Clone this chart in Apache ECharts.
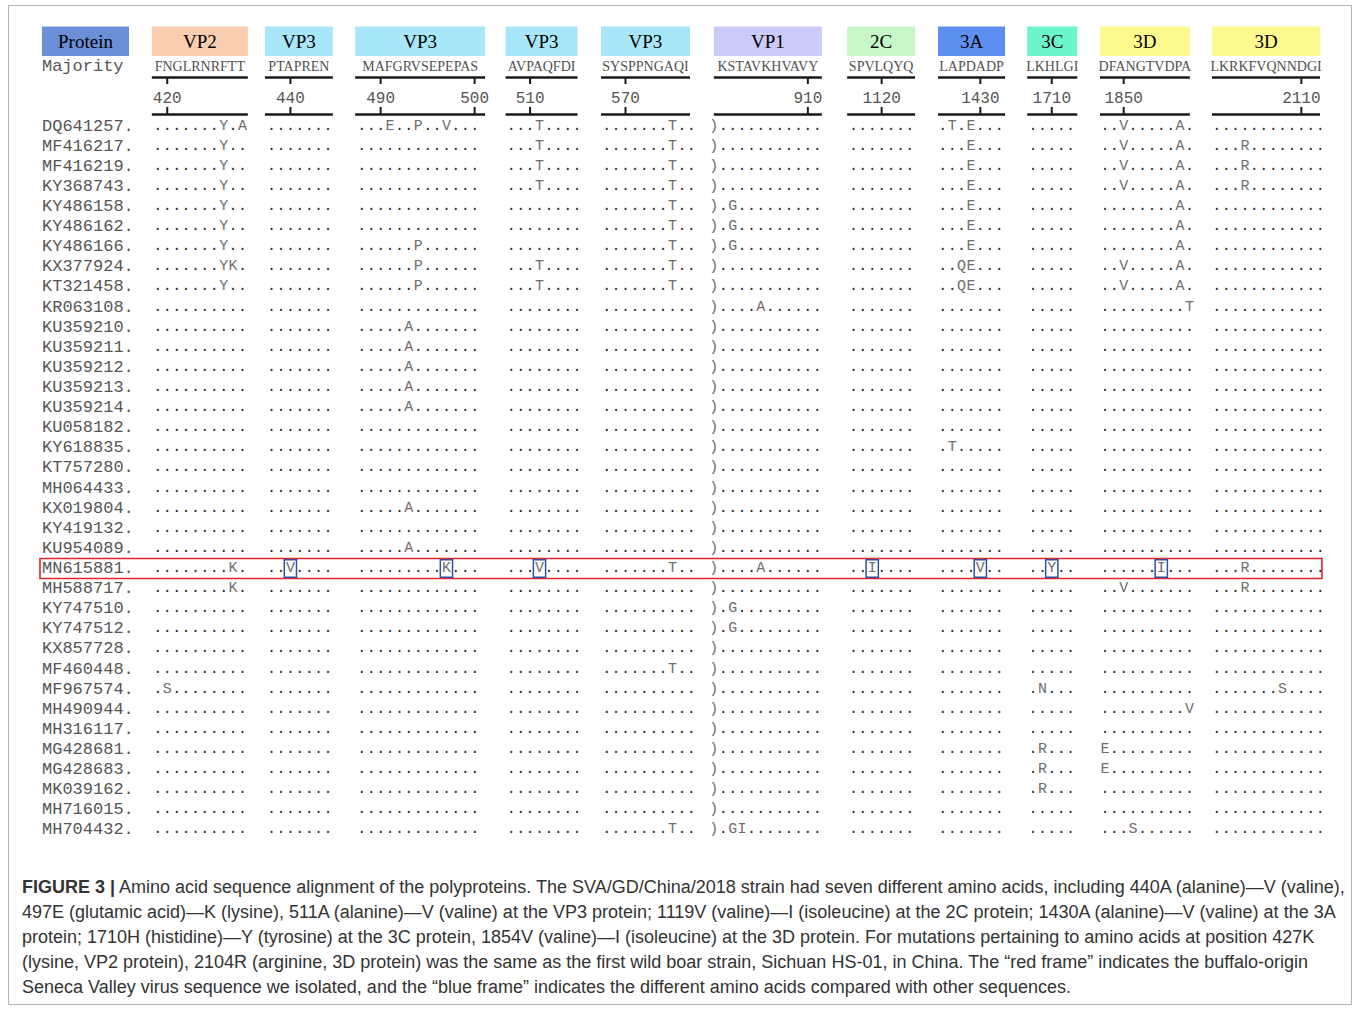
<!DOCTYPE html>
<html>
<head>
<meta charset="utf-8">
<title>SVA polyprotein alignment</title>
<script src="https://cdn.jsdelivr.net/npm/echarts@6/dist/echarts.min.js"></script>
<style>
html,body{margin:0;padding:0;background:#fff;}
#chart{width:1357px;height:1009px;}
</style>
</head>
<body>
<div id="chart"></div>
<script>
// ================= DATA =================
const strains = ['DQ641257','MF416217','MF416219','KY368743','KY486158','KY486162','KY486166','KX377924','KT321458','KR063108',
  'KU359210','KU359211','KU359212','KU359213','KU359214','KU058182','KY618835','KT757280','MH064433','KX019804',
  'KY419132','KU954089','MN615881','MH588717','KY747510','KY747512','KX857728','MF460448','MF967574','MH490944',
  'MH316117','MG428681','MG428683','MK039162','MH716015','MH704432'];
const proteins = ['VP2','VP3','VP3','VP3','VP3','VP1','2C','3A','3C','3D','3D'];
const majority = ['FNGLRNRFTT','PTAPREN','MAFGRVSEPEPAS','AVPAQFDI','SYSPPNGAQI','KSTAVKHVAVY','SPVLQYQ','LAPDADP','LKHLGI','DFANGTVDPA','LKRKFVQNNDGI'];
const firstResidue = [419,438,488,508,568,900,1117,1426,1708,1848,2101];
const positionTicks = [[420],[440],[490,500],[510],[570],[910],[1120],[1430],[1710],[1850],[2110]];

const seqVP2 = [
 '.......Y.A','.......Y..','.......Y..','.......Y..','.......Y..','.......Y..',
 '.......Y..','.......YK.','.......Y..','..........','..........','..........',
 '..........','..........','..........','..........','..........','..........',
 '..........','..........','..........','..........','........K.','........K.',
 '..........','..........','..........','..........','.S........','..........',
 '..........','..........','..........','..........','..........','..........'];
const seqVP3a = [
 '.......','.......','.......','.......','.......','.......',
 '.......','.......','.......','.......','.......','.......',
 '.......','.......','.......','.......','.......','.......',
 '.......','.......','.......','.......','..V....','.......',
 '.......','.......','.......','.......','.......','.......',
 '.......','.......','.......','.......','.......','.......'];
const seqVP3b = [
 '...E..P..V...','.............','.............','.............','.............','.............',
 '......P......','......P......','......P......','.............','.....A.......','.....A.......',
 '.....A.......','.....A.......','.....A.......','.............','.............','.............',
 '.............','.....A.......','.............','.....A.......','.........K...','.............',
 '.............','.............','.............','.............','.............','.............',
 '.............','.............','.............','.............','.............','.............'];
const seqVP3c = [
 '...T....','...T....','...T....','...T....','........','........',
 '........','...T....','...T....','........','........','........',
 '........','........','........','........','........','........',
 '........','........','........','........','...V....','........',
 '........','........','........','........','........','........',
 '........','........','........','........','........','........'];
const seqVP3d = [
 '.......T..','.......T..','.......T..','.......T..','.......T..','.......T..',
 '.......T..','.......T..','.......T..','..........','..........','..........',
 '..........','..........','..........','..........','..........','..........',
 '..........','..........','..........','..........','.......T..','..........',
 '..........','..........','..........','.......T..','..........','..........',
 '..........','..........','..........','..........','..........','.......T..'];
const seqVP1 = [
 ')...........',')...........',')...........',')...........',').G.........',').G.........',
 ').G.........',')...........',')...........',')....A......',')...........',')...........',
 ')...........',')...........',')...........',')...........',')...........',')...........',
 ')...........',')...........',')...........',')...........',')....A......',')...........',
 ').G.........',').G.........',')...........',')...........',')...........',')...........',
 ')...........',')...........',')...........',')...........',')...........',').GI........'];
const seq2C = [
 '.......','.......','.......','.......','.......','.......',
 '.......','.......','.......','.......','.......','.......',
 '.......','.......','.......','.......','.......','.......',
 '.......','.......','.......','.......','..I....','.......',
 '.......','.......','.......','.......','.......','.......',
 '.......','.......','.......','.......','.......','.......'];
const seq3A = [
 '.T.E...','...E...','...E...','...E...','...E...','...E...',
 '...E...','..QE...','..QE...','.......','.......','.......',
 '.......','.......','.......','.......','.T.....','.......',
 '.......','.......','.......','.......','....V..','.......',
 '.......','.......','.......','.......','.......','.......',
 '.......','.......','.......','.......','.......','.......'];
const seq3C = [
 '.....','.....','.....','.....','.....','.....',
 '.....','.....','.....','.....','.....','.....',
 '.....','.....','.....','.....','.....','.....',
 '.....','.....','.....','.....','..Y..','.....',
 '.....','.....','.....','.....','.N...','.....',
 '.....','.R...','.R...','.R...','.....','.....'];
const seq3D = [
 '..V.....A.','..V.....A.','..V.....A.','..V.....A.','........A.','........A.',
 '........A.','..V.....A.','..V.....A.','.........T','..........','..........',
 '..........','..........','..........','..........','..........','..........',
 '..........','..........','..........','..........','......I...','..V.......',
 '..........','..........','..........','..........','..........','.........V',
 '..........','E.........','E.........','..........','..........','...S......'];
const seq3D2 = [
 '............','...R........','...R........','...R........','............','............',
 '............','............','............','............','............','............',
 '............','............','............','............','............','............',
 '............','............','............','............','...R........','...R........',
 '............','............','............','............','.......S....','............',
 '............','............','............','............','............','............'];

const isolate = 'MN615881';
const distinctSites = [440, 497, 511, 1119, 1430, 1710, 1854];
const distinctSiteBlock = [1, 2, 3, 6, 7, 8, 9];

const captionLines = [
 '{b|FIGURE 3 |} Amino acid sequence alignment of the polyproteins. The SVA/GD/China/2018 strain had seven different amino acids, including 440A (alanine)\u2014V (valine),',
 '497E (glutamic acid)\u2014K (lysine), 511A (alanine)\u2014V (valine) at the VP3 protein; 1119V (valine)\u2014I (isoleucine) at the 2C protein; 1430A (alanine)\u2014V (valine) at the 3A',
 'protein; 1710H (histidine)\u2014Y (tyrosine) at the 3C protein, 1854V (valine)\u2014I (isoleucine) at the 3D protein. For mutations pertaining to amino acids at position 427K',
 '(lysine, VP2 protein), 2104R (arginine, 3D protein) was the same as the first wild boar strain, Sichuan HS-01, in China. The \u201cred frame\u201d indicates the buffalo-origin',
 'Seneca Valley virus sequence we isolated, and the \u201cblue frame\u201d indicates the different amino acids compared with other sequences.'
];

// ================= LAYOUT (axis units: 1 x unit = one residue column, 1 y unit = one row) =================
const X_MAX = 126.28;
const blockStartCol = [1.9, 14.0, 23.6, 39.5, 49.65, 61.05, 75.9, 85.4, 95.0, 102.65, 114.55];
const boxSpan = [[-0.64,9.57],[-0.71,6.52],[-0.71,13.11],[-0.61,7.05],[-0.61,8.86],[0,11.49],[-0.67,6.56],[-0.5,6.63],[-0.61,4.71],[-0.53,9.04],[-0.5,10.99]];
const HDR = {boxTop:-4.95, boxBottom:-3.48, majority:-2.96, line1:-2.41, tick1:-2.09, nums:-1.37, tick2:-0.95, line2:-0.575};
const nameCol = -10.43;
const proteinBoxSpan = [-10.43, -1.17];
const frameSpan = [-10.64, 125.74];
const proteinColor = {'VP2':'#f8cdb0','VP3':'#a8e6fa','VP1':'#cbcbfa','2C':'#c6f7c6','3A':'#5c8ff0','3C':'#6cf5cb','3D':'#fcfa8e'};

const MONO = '"Liberation Mono","Courier New",monospace';
const SERIF = '"Liberation Serif","Times New Roman",serif';
const SANS = '"Liberation Sans",Arial,sans-serif';

const blocks = [seqVP2, seqVP3a, seqVP3b, seqVP3c, seqVP3d, seqVP1, seq2C, seq3A, seq3C, seq3D, seq3D2];

function txt(str, pt, font, color, align) {
  const a = align || 'center';
  return {type:'text', x:pt[0], y:pt[1], style:{text:str, fill:color, font:font, align:a, textAlign:a, verticalAlign:'middle', textVerticalAlign:'middle'}};
}
function seg(p, q, w, color) {
  return {type:'line', shape:{x1:p[0], y1:p[1], x2:q[0], y2:q[1]}, style:{stroke:color || '#1a1a1a', lineWidth:w}};
}

const cells = [];
blocks.forEach((rows, b) => rows.forEach((str, r) => {
  for (let i = 0; i < str.length; i++) cells.push([blockStartCol[b] + i, r, b, i]);
}));

function renderChar(params, api) {
  const b = api.value(2), r = api.value(1), i = api.value(3);
  const ch = blocks[b][r][i];
  const p = api.coord([api.value(0), r]);
  const isDot = ch === '.';
  return txt(ch, p, '15px ' + MONO, isDot ? '#2a2a2a' : '#6e6e6e');
}

function renderHeader(params, api) {
  const b = api.value(2);
  const s = blockStartCol[b];
  const sp = boxSpan[b];
  const c = (col, row) => api.coord([col, row]);
  const children = [];
  const p1 = c(s + sp[0], HDR.boxTop), p2 = c(s + sp[1], HDR.boxBottom);
  children.push({type:'rect', shape:{x:p1[0], y:p1[1], width:p2[0]-p1[0], height:p2[1]-p1[1]}, style:{fill:proteinColor[proteins[b]]}});
  const midCol = s + (sp[0] + sp[1]) / 2;
  children.push(txt(proteins[b], c(midCol, (HDR.boxTop + HDR.boxBottom) / 2), '19px ' + SERIF, '#000'));
  children.push(txt(majority[b], c(midCol, HDR.majority), '14px ' + SERIF, '#505050'));
  children.push(seg(c(s + sp[0], HDR.line1), c(s + sp[1], HDR.line1), 2.5));
  children.push(seg(c(s + sp[0], HDR.line2), c(s + sp[1], HDR.line2), 2.5));
  positionTicks[b].forEach(v => {
    const col = s + v - firstResidue[b];
    children.push(seg(c(col, HDR.line1), c(col, HDR.tick1), 2));
    children.push(txt(String(v), c(col, HDR.nums), '16px ' + MONO, '#555'));
    children.push(seg(c(col, HDR.tick2), c(col, HDR.line2), 2));
  });
  return {type:'group', children};
}

function renderRowHeader(params, api) {
  const c = (col, row) => api.coord([col, row]);
  const p1 = c(proteinBoxSpan[0], HDR.boxTop), p2 = c(proteinBoxSpan[1], HDR.boxBottom);
  return {type:'group', children:[
    {type:'rect', shape:{x:p1[0], y:p1[1], width:p2[0]-p1[0], height:p2[1]-p1[1]}, style:{fill:'#6a8fd6'}},
    txt('Protein', c((proteinBoxSpan[0] + proteinBoxSpan[1]) / 2, (HDR.boxTop + HDR.boxBottom) / 2), '19px ' + SERIF, '#000'),
    txt('Majority', c(nameCol, HDR.majority), '17px ' + MONO, '#555', 'left')
  ]};
}

function renderFrame(params, api) {
  const r = api.value(1);
  const p1 = api.coord([frameSpan[0], r - 0.5]), p2 = api.coord([frameSpan[1], r + 0.5]);
  return {type:'rect', shape:{x:p1[0], y:p1[1], width:p2[0]-p1[0], height:p2[1]-p1[1]}, style:{fill:'none', stroke:'#e4232a', lineWidth:1.6}};
}

function renderSite(params, api) {
  const col = api.value(0), r = api.value(1);
  const p1 = api.coord([col - 0.65, r - 0.43]), p2 = api.coord([col + 0.65, r + 0.43]);
  return {type:'rect', shape:{x:p1[0], y:p1[1], width:p2[0]-p1[0], height:p2[1]-p1[1]}, style:{fill:'none', stroke:'#2c54a0', lineWidth:1.5}};
}

const isoRow = strains.indexOf(isolate);
const siteData = distinctSites.map((pos, k) => {
  const b = distinctSiteBlock[k];
  return [blockStartCol[b] + pos - firstResidue[b], isoRow];
});

const chart = echarts.init(document.getElementById('chart'), null, {renderer:'svg'});
chart.setOption({
  animation: false,
  backgroundColor: '#fff',
  title: {
    left: 22, top: 874, padding: 0,
    text: captionLines.join('\n'),
    textStyle: {
      fontFamily: SANS, fontSize: 18, fontWeight: 'normal', color: '#333', lineHeight: 25,
      rich: {b: {fontFamily: SANS, fontSize: 18, fontWeight: 'bold', color: '#333', lineHeight: 25}}
    }
  },
  graphic: [{type:'rect', shape:{x:8.5, y:5.5, width:1343, height:999}, style:{fill:'none', stroke:'#b5b5b5', lineWidth:1}, silent:true}],
  grid: {left:140, top:116, width:1187, height:724},
  xAxis: {type:'value', min:0, max:X_MAX, show:false},
  yAxis: [
    {type:'category', data:strains, inverse:true,
     axisLine:{show:false}, axisTick:{show:false}, splitLine:{show:false},
     axisLabel:{interval:0, align:'left', margin:98, fontFamily:MONO, fontSize:17, color:'#555', formatter: v => v + '.'}},
    {type:'value', min:-0.5, max:strains.length - 0.5, inverse:true, show:false}
  ],
  series: [
    {type:'custom', name:'header', yAxisIndex:1, silent:true, clip:false,
     data: proteins.map((p, b) => [blockStartCol[b], HDR.majority, b]), renderItem: renderHeader},
    {type:'custom', name:'rowHeader', yAxisIndex:1, silent:true, clip:false,
     data: [[nameCol, HDR.majority]], renderItem: renderRowHeader},
    {type:'custom', name:'alignment', yAxisIndex:1, silent:true, clip:false,
     data: cells, renderItem: renderChar},
    {type:'custom', name:'isolate', yAxisIndex:1, silent:true, clip:false,
     data: [[0, isoRow]], renderItem: renderFrame},
    {type:'custom', name:'distinct sites', yAxisIndex:1, silent:true, clip:false,
     data: siteData, renderItem: renderSite}
  ]
});
</script>
</body>
</html>
